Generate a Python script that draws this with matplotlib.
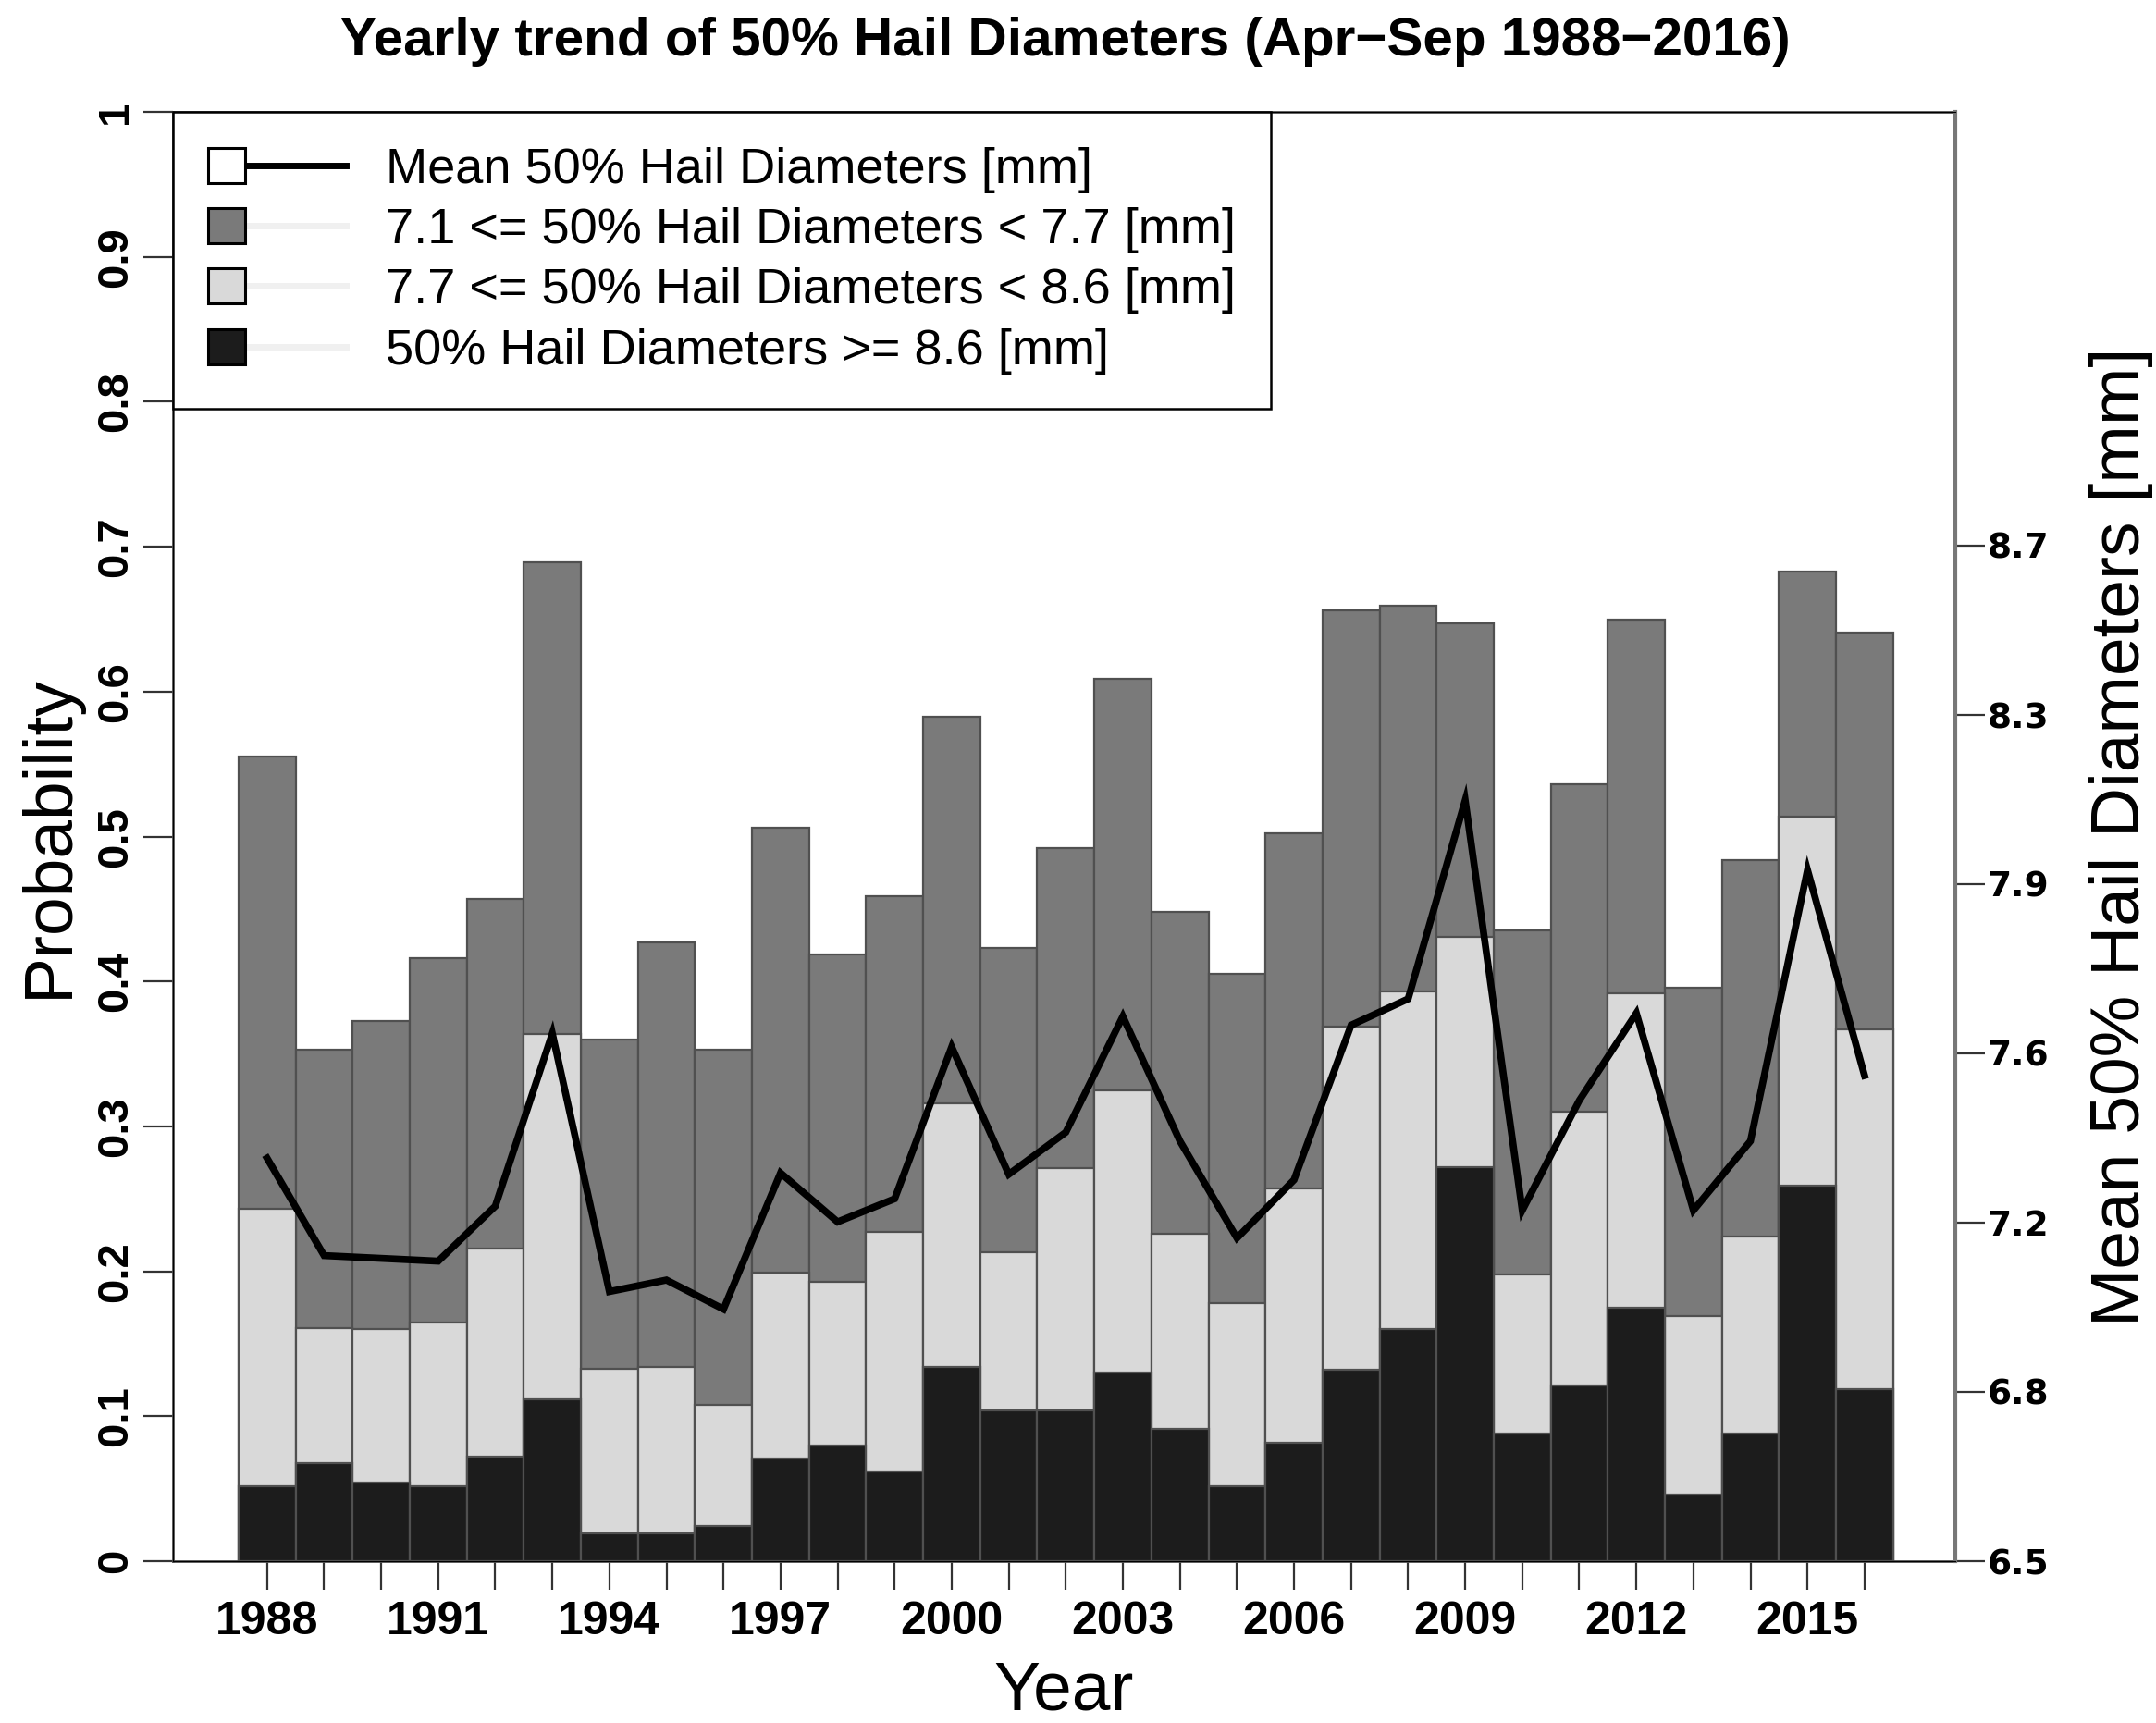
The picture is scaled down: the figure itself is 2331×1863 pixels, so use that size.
""" yearly trend of 50% hail diameters: overlapping bars + mean line on twin axis """
import matplotlib
matplotlib.use('Agg')
import matplotlib.pyplot as plt
from matplotlib.patches import Patch, Rectangle
from matplotlib.lines import Line2D
from matplotlib.legend_handler import HandlerBase

plt.rcParams['font.family'] = ['Liberation Sans', 'DejaVu Sans']

""" data read off the reference """
years = list(range(1988, 2017))

# probability that the 50% hail diameter is >= 7.1, >= 7.7 and >= 8.6 mm
p_ge71 = [0.555, 0.353, 0.373, 0.416, 0.457, 0.689, 0.360, 0.427, 0.353, 0.506,
          0.419, 0.459, 0.583, 0.423, 0.492, 0.609, 0.448, 0.405, 0.502, 0.656,
          0.659, 0.647, 0.435, 0.536, 0.650, 0.396, 0.484, 0.683, 0.641]
p_ge77 = [0.243, 0.161, 0.160, 0.165, 0.216, 0.364, 0.133, 0.134, 0.108, 0.199,
          0.193, 0.227, 0.316, 0.213, 0.271, 0.325, 0.226, 0.178, 0.257, 0.369,
          0.393, 0.431, 0.198, 0.310, 0.392, 0.169, 0.224, 0.514, 0.367]
p_ge86 = [0.052, 0.068, 0.054, 0.052, 0.072, 0.112, 0.019, 0.019, 0.024, 0.071,
          0.080, 0.062, 0.134, 0.104, 0.104, 0.130, 0.091, 0.052, 0.082, 0.132,
          0.160, 0.272, 0.088, 0.121, 0.175, 0.046, 0.088, 0.259, 0.119]

# mean 50% hail diameter [mm]
mean_diam = [7.373, 7.162, 7.156, 7.150, 7.269, 7.643, 7.084, 7.109, 7.046, 7.341,
             7.235, 7.285, 7.614, 7.338, 7.429, 7.680, 7.410, 7.200, 7.326, 7.661,
             7.718, 8.148, 7.260, 7.498, 7.687, 7.260, 7.410, 7.997, 7.552]

left_ticks = [0, 0.1, 0.2, 0.3, 0.4, 0.5, 0.6, 0.7, 0.8, 0.9, 1]
left_tick_labels = ['0', '0.1', '0.2', '0.3', '0.4', '0.5', '0.6', '0.7', '0.8', '0.9', '1']
right_ticks = [6.5, 6.867, 7.233, 7.6, 7.967, 8.333, 8.7]
right_tick_labels = ['6.5', '6.8', '7.2', '7.6', '7.9', '8.3', '8.7']
right_lim = (6.5, 9.639)

labels = ['Mean 50% Hail Diameters [mm]',
          '7.1 <= 50% Hail Diameters < 7.7 [mm]',
          '7.7 <= 50% Hail Diameters < 8.6 [mm]',
          '50% Hail Diameters >= 8.6 [mm]']

c_mid = '#7a7a7a'
c_light = '#d9d9d9'
c_dark = '#1c1c1c'
c_edge = '#505050'


class SquareLine(HandlerBase):
    """ legend key: small square followed by a line segment """
    def __init__(self, line_color):
        super().__init__()
        self.line_color = line_color

    def create_artists(self, legend, orig_handle, xdescent, ydescent,
                       width, height, fontsize, trans):
        x0, y0 = -xdescent, -ydescent
        side = 29
        sq = Rectangle((x0, y0), side, height, facecolor=orig_handle.get_facecolor(),
                       edgecolor='black', linewidth=2.2, transform=trans)
        ln = Line2D([x0 + side, x0 + width], [y0 + height / 2] * 2,
                    color=self.line_color, linewidth=5, transform=trans)
        return [ln, sq]


fig = plt.figure(figsize=(23.31, 18.63), dpi=100)
ax = fig.add_axes([0.0802, 0.0939, 0.8267, 0.8411])

# overlapping bars: widest class first, then the narrower ones on top
ax.bar(years, p_ge71, width=1.0, color=c_mid, edgecolor=c_edge, linewidth=1.6)
ax.bar(years, p_ge77, width=1.0, color=c_light, edgecolor=c_edge, linewidth=1.6)
ax.bar(years, p_ge86, width=1.0, color=c_dark, edgecolor=c_edge, linewidth=1.6)

ax.set_xlim(1986.35, 2017.59)
ax.set_ylim(0, 1)
ax.set_xticks(years)
ax.set_xticklabels([str(y) if (y - 1988) % 3 == 0 else '' for y in years],
                   fontsize=36, fontweight='bold')
ax.set_yticks(left_ticks)
ax.set_yticklabels(left_tick_labels, rotation=90, va='center', fontsize=34, fontweight='bold')
ax.tick_params(axis='x', length=22, width=1.6, color='#333333', pad=9)
ax.tick_params(axis='y', length=23, width=1.6, color='#333333', pad=6)
for s in ax.spines.values():
    s.set_color('#555555')
    s.set_linewidth(2)

ax.set_ylabel('Probability', fontsize=54)
ax.yaxis.set_label_coords(-0.0515, 0.5)
ax.set_xlabel('Year', fontsize=54)
ax.xaxis.set_label_coords(0.5, -0.068)

# mean diameter on the right axis
ax2 = ax.twinx()
ax2.plot(years, mean_diam, color='black', linewidth=5.5, solid_joinstyle='miter')
ax2.set_ylim(*right_lim)
ax2.set_yticks(right_ticks)
ax2.set_yticklabels(right_tick_labels, fontsize=27, fontweight='bold', family='DejaVu Sans')
ax2.tick_params(axis='y', length=23, width=1.6, color='#333333', pad=2)
ax2.spines['right'].set_color('#777777')
ax2.spines['right'].set_linewidth(3)
ax2.set_ylabel('Mean 50% Hail Diameters [mm]', fontsize=54)
ax2.yaxis.set_label_coords(1.0752, 0.5)

# legend
h_mean = Patch(facecolor='white', label=labels[0])
h_mid = Patch(facecolor=c_mid, label=labels[1])
h_light = Patch(facecolor=c_light, label=labels[2])
h_dark = Patch(facecolor=c_dark, label=labels[3])
leg = ax2.legend(handles=[h_mean, h_mid, h_light, h_dark], loc='upper left',
                 handler_map={h_mean: SquareLine('black'), h_mid: SquareLine('#f0f0f0'),
                              h_light: SquareLine('#f0f0f0'), h_dark: SquareLine('#f0f0f0')},
                 fontsize=39, handlelength=2.75, handletextpad=0.8, labelspacing=0.28,
                 borderpad=0.7, borderaxespad=0, fancybox=False, framealpha=1)
leg.get_frame().set_edgecolor('black')
leg.get_frame().set_linewidth(1.8)

fig.text(0.494, 0.976, 'Yearly trend of 50% Hail Diameters (Apr\u2212Sep 1988\u22122016)',
         ha='center', va='center', fontsize=42, fontweight='bold')

fig.savefig('out.png', dpi=100)
